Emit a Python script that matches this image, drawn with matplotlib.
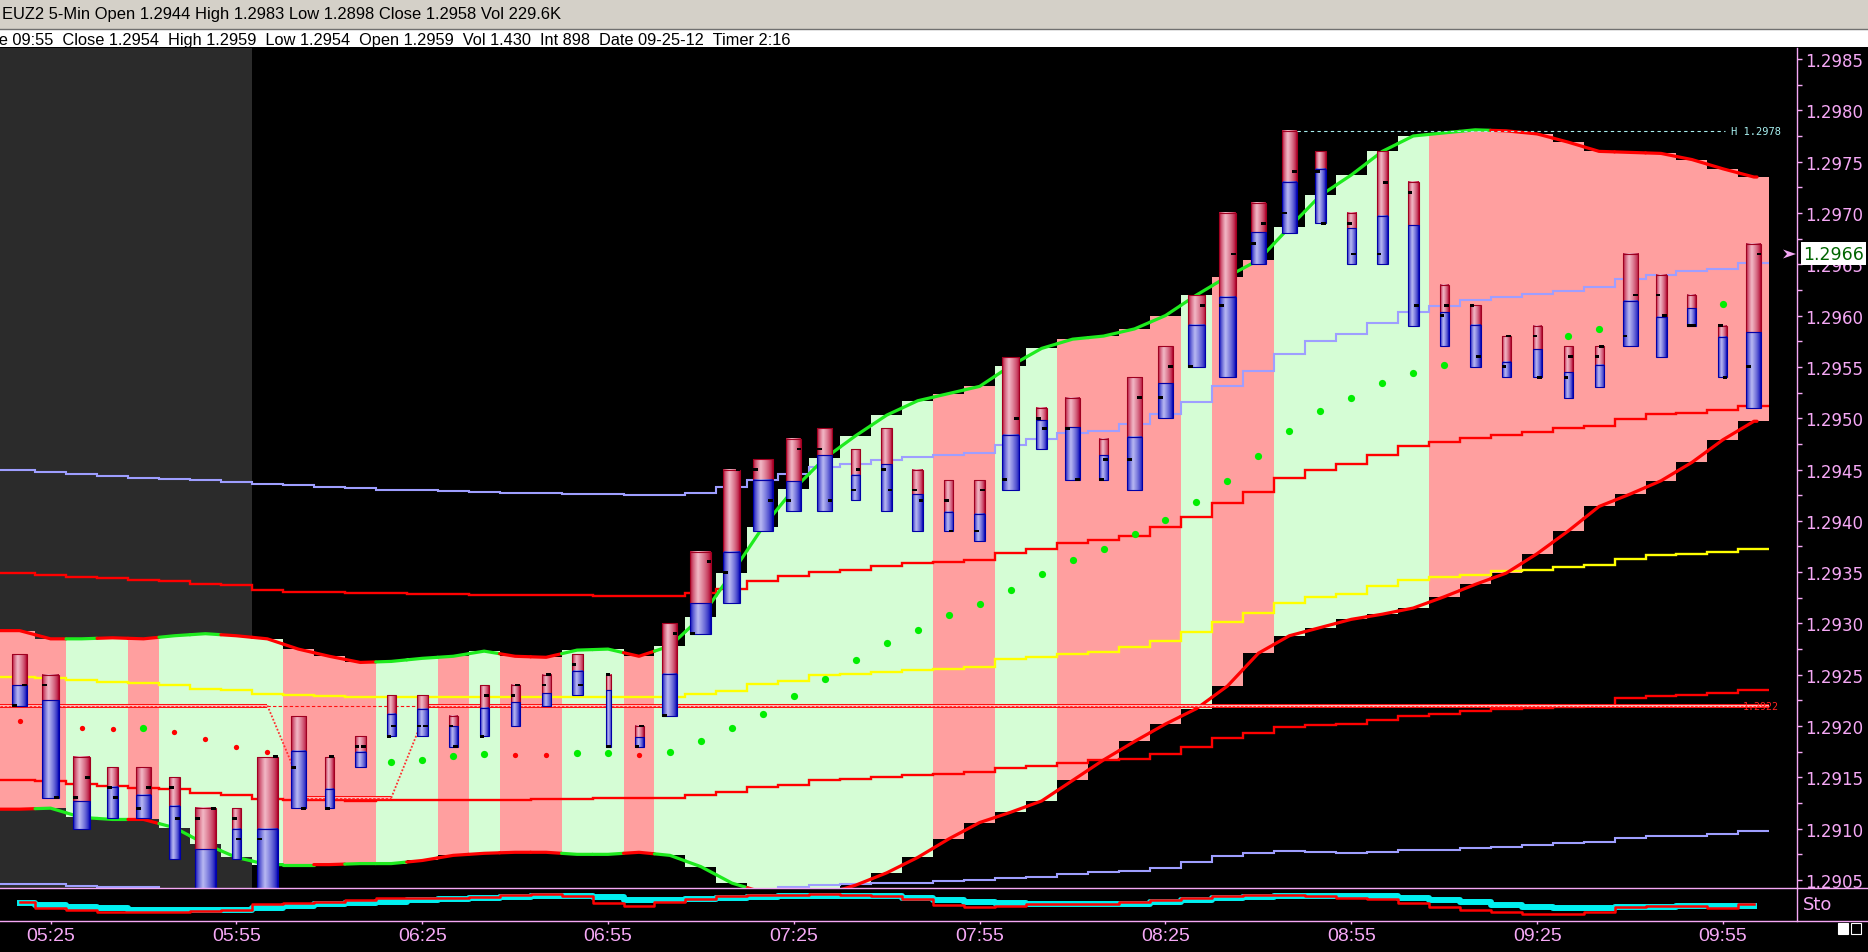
import numpy as np
import matplotlib
matplotlib.use("Agg")
import matplotlib.pyplot as plt
from matplotlib.collections import LineCollection
from matplotlib.colors import to_rgb
from matplotlib.lines import Line2D
from matplotlib.patches import Polygon, Rectangle

W, H, DPI = 1868, 953, 100
BASE = 1.2900  # indicator values below are stored as pips above this

# 5-min bars 05:20 .. 10:00
bar_high = [1.2927, 1.2925, 1.2917, 1.2916, 1.2916, 1.2915, 1.2912, 1.2912, 1.2917, 1.2921,
            1.2917, 1.2919, 1.2923, 1.2923, 1.2921, 1.2924, 1.2924, 1.2925, 1.2927, 1.2925,
            1.2920, 1.2930, 1.2937, 1.2945, 1.2946, 1.2948, 1.2949, 1.2947, 1.2949, 1.2945,
            1.2944, 1.2944, 1.2956, 1.2951, 1.2952, 1.2948, 1.2954, 1.2957, 1.2962, 1.2970,
            1.2971, 1.2978, 1.2976, 1.2970, 1.2976, 1.2973, 1.2963, 1.2961, 1.2958, 1.2959,
            1.2957, 1.2957, 1.2966, 1.2964, 1.2962, 1.2959, 1.2967]
bar_low = [1.2922, 1.2913, 1.2910, 1.2911, 1.2911, 1.2907, 1.2902, 1.2907, 1.2902, 1.2912,
           1.2912, 1.2916, 1.2919, 1.2919, 1.2918, 1.2919, 1.2920, 1.2922, 1.2923, 1.2918,
           1.2918, 1.2921, 1.2929, 1.2932, 1.2939, 1.2941, 1.2941, 1.2942, 1.2941, 1.2939,
           1.2939, 1.2938, 1.2943, 1.2947, 1.2944, 1.2944, 1.2943, 1.2950, 1.2955, 1.2954,
           1.2965, 1.2968, 1.2969, 1.2965, 1.2965, 1.2959, 1.2957, 1.2955, 1.2954, 1.2954,
           1.2952, 1.2953, 1.2957, 1.2956, 1.2959, 1.2954, 1.2951]
bar_open = [1.2922, 1.2924, 1.2913, 1.2914, 1.2912, 1.2914, 1.2911, 1.2911, 1.2909, 1.2916,
            1.2912, 1.2918, 1.2919, 1.2920, 1.2920, 1.2919, 1.2923, 1.2924, 1.2926, 1.2925,
            1.2918, 1.2921, 1.2929, 1.2935, 1.2945, 1.2942, 1.2947, 1.2943, 1.2945, 1.2943,
            1.2942, 1.2939, 1.2944, 1.2950, 1.2949, 1.2944, 1.2946, 1.2952, 1.2955, 1.2961,
            1.2967, 1.2970, 1.2974, 1.2969, 1.2966, 1.2972, 1.2960, 1.2961, 1.2955, 1.2958,
            1.2954, 1.2956, 1.2958, 1.2962, 1.2959, 1.2959, 1.2955]
bar_close = [1.2924, 1.2913, 1.2915, 1.2913, 1.2914, 1.2911, 1.2912, 1.2909, 1.2917, 1.2912,
             1.2917, 1.2918, 1.2920, 1.2920, 1.2918, 1.2923, 1.2924, 1.2925, 1.2924, 1.2918,
             1.2920, 1.2929, 1.2936, 1.2945, 1.2942, 1.2947, 1.2942, 1.2945, 1.2943, 1.2942,
             1.2939, 1.2943, 1.2950, 1.2949, 1.2944, 1.2946, 1.2952, 1.2955, 1.2961, 1.2966,
             1.2969, 1.2974, 1.2969, 1.2966, 1.2973, 1.2961, 1.2961, 1.2956, 1.2958, 1.2954,
             1.2956, 1.2957, 1.2962, 1.2960, 1.2959, 1.2954, 1.2966]
bar_split = [1.29240, 1.29225, 1.29127, 1.29141, 1.29133, 1.29122, 1.29080, 1.29100, 1.29100, 1.29176,
             1.29139, 1.29175, 1.29212, 1.29217, 1.29200, 1.29218, 1.29223, 1.29232, 1.29254, 1.29235,
             1.29189, 1.29251, 1.29320, 1.29370, 1.29440, 1.29439, 1.29464, 1.29445, 1.29455, 1.29426,
             1.29409, 1.29407, 1.29484, 1.29498, 1.29491, 1.29464, 1.29482, 1.29534, 1.29591, 1.29618,
             1.29681, 1.29730, 1.29743, 1.29685, 1.29697, 1.29688, 1.29603, 1.29591, 1.29555, 1.29567,
             1.29545, 1.29552, 1.29614, 1.29599, 1.29607, 1.29579, 1.29584]
bar_width_px = [15, 17, 17, 11, 15, 11, 21, 9, 21, 15, 9, 11, 9, 11, 9, 9, 9, 9, 11, 5,
                9, 15, 21, 17, 20, 15, 15, 9, 11, 11, 9, 11, 17, 11, 15, 9, 15, 15, 17, 17,
                15, 15, 11, 9, 11, 11, 9, 11, 9, 9, 9, 9, 15, 11, 9, 9, 15]

band_upper_pips = [29.3, 28.5, 28.5, 28.6, 28.5, 28.8, 29.0, 28.8, 28.5, 27.5,
                   26.8, 26.2, 26.3, 26.6, 26.8, 27.3, 26.8, 26.7, 27.4, 27.5,
                   26.8, 27.8, 30.6, 34.9, 39.4, 43.1, 46.1, 48.3, 50.3, 51.7,
                   52.4, 53.1, 55.1, 56.8, 57.7, 58.0, 58.7, 60.0, 62.0, 63.8,
                   65.4, 68.6, 71.7, 73.7, 76.0, 77.5, 77.8, 78.1, 78.0, 77.7,
                   76.9, 76.0, 75.9, 75.8, 75.2, 74.3, 73.5]
band_lower_pips = [11.9, 12.0, 11.1, 10.9, 10.9, 10.1, 8.5, 7.2, 6.5, 6.5,
                   6.5, 6.6, 6.6, 6.9, 7.4, 7.6, 7.7, 7.7, 7.5, 7.5,
                   7.7, 7.4, 6.3, 4.7, 3.8, 3.0, 3.6, 4.5, 5.7, 7.2,
                   9.0, 10.6, 11.6, 12.7, 14.7, 16.7, 18.5, 20.2, 21.7, 23.9,
                   27.1, 28.8, 29.6, 30.4, 30.9, 31.5, 32.6, 33.8, 34.9, 36.8,
                   39.0, 41.4, 42.6, 43.9, 45.7, 47.9, 49.7]
band_state = "PPGGPGGGGPPPGGPGPPGGP" + "GGGGGGGGG" + "PP" + "GG" + "PPPP" + "G" + "PP" + "GGGGG" + "PPPPPPPPPPP"
upper_edge_state = "RRGRRGGRRRRRGGGGRRGGR" + "G" * 27 + "R" * 9
lower_edge_state = "RGGGRGGGGGRGGRRRRRGGRGGG" + "R" * 33

lavender_hi_pips = [45.0, 44.8, 44.6, 44.4, 44.2, 44.1, 44.0, 43.8, 43.6, 43.5,
                    43.3, 43.2, 43.0, 43.0, 42.9, 42.8, 42.7, 42.7, 42.6, 42.6,
                    42.5, 42.5, 42.7, 43.3, 44.0, 44.6, 45.2, 45.5, 45.9, 46.2,
                    46.4, 46.6, 47.4, 48.0, 48.6, 48.8, 49.4, 50.4, 51.6, 53.1,
                    54.6, 56.3, 57.5, 58.2, 59.3, 60.3, 60.9, 61.5, 61.8, 62.1,
                    62.4, 62.8, 63.6, 64.0, 64.3, 64.5, 65.1]
lavender_lo_pips = [4.6, 4.6, 4.4, 4.3, 4.3, 3.9, 3.9, 3.9, 3.9, 3.9,
                    3.9, 3.9, 3.9, 3.9, 3.9, 3.9, 3.9, 3.9, 3.9, 3.9,
                    3.9, 3.9, 3.9, 3.9, 3.9, 4.3, 4.5, 4.6, 4.7, 4.7,
                    4.9, 5.0, 5.2, 5.3, 5.6, 5.8, 5.9, 6.2, 6.8, 7.3,
                    7.6, 7.8, 7.7, 7.6, 7.7, 7.9, 7.9, 8.1, 8.2, 8.4,
                    8.6, 8.7, 9.1, 9.3, 9.3, 9.5, 9.8]
red_hi_pips = [34.9, 34.7, 34.5, 34.4, 34.2, 34.1, 33.8, 33.7, 33.3, 33.1,
               33.1, 33.0, 33.0, 32.9, 32.9, 32.8, 32.8, 32.8, 32.8, 32.7,
               32.7, 32.7, 33.0, 33.4, 34.1, 34.6, 35.0, 35.2, 35.6, 35.9,
               36.0, 36.2, 36.9, 37.3, 37.8, 38.1, 38.5, 39.4, 40.4, 41.7,
               42.8, 44.2, 45.0, 45.5, 46.4, 47.3, 47.7, 48.1, 48.4, 48.7,
               49.0, 49.2, 49.9, 50.4, 50.5, 50.8, 51.2]
yellow_pips = [24.8, 24.7, 24.5, 24.3, 24.2, 24.0, 23.6, 23.5, 23.1, 23.0,
               22.9, 22.8, 22.8, 22.8, 22.8, 22.8, 22.8, 22.8, 22.8, 22.8,
               22.8, 22.8, 23.1, 23.4, 24.1, 24.4, 25.0, 25.1, 25.3, 25.5,
               25.6, 25.8, 26.5, 26.7, 27.0, 27.2, 27.7, 28.3, 29.2, 30.1,
               31.0, 32.0, 32.6, 32.9, 33.6, 34.2, 34.5, 34.7, 35.1, 35.2,
               35.5, 35.7, 36.3, 36.7, 36.8, 37.0, 37.3]
red_lo_pips = [14.7, 14.6, 14.4, 14.2, 14.0, 13.9, 13.5, 13.3, 12.9, 12.8,
               12.8, 12.7, 12.8, 12.8, 12.8, 12.8, 12.8, 12.9, 12.9, 13.0,
               13.0, 13.0, 13.3, 13.6, 14.1, 14.3, 14.7, 14.8, 15.0, 15.2,
               15.3, 15.5, 15.9, 16.1, 16.4, 16.7, 16.8, 17.3, 18.0, 18.8,
               19.3, 19.9, 20.1, 20.2, 20.6, 21.0, 21.2, 21.5, 21.7, 21.8,
               21.9, 22.0, 22.7, 22.9, 23.0, 23.2, 23.5]

dot_bar = [0, 2, 3, 4, 5, 6, 7, 8, 12, 13, 14, 15, 16, 17, 18, 19, 20,
           21, 22, 23, 24, 25, 26, 27, 28, 29, 30, 31, 32, 33, 34, 35, 36, 37, 38, 39,
           40, 41, 42, 43, 44, 45, 46, 50, 51, 55]
dot_pips = [20.5, 19.8, 19.7, 19.8, 19.4, 18.7, 18.0, 17.5,
            16.5, 16.7, 17.1, 17.3, 17.2, 17.2, 17.4, 17.4, 17.2,
            17.5, 18.5, 19.8, 21.2, 22.9, 24.6, 26.4, 28.1, 29.4, 30.8, 31.9, 33.3,
            34.8, 36.2, 37.3, 38.7, 40.1, 41.8, 43.9, 46.3, 48.8, 50.7, 52.0, 53.4,
            54.4, 55.2, 58.0, 58.7, 61.1]
dot_kind = "rrrgrrrrggggrrggr" + "g" * 29

sto_k = [56.7, 38.4, 34.3, 28.3, 28.3, 28.3, 30.3, 33.3, 50.5, 53.5,
         58.6, 64.6, 68.7, 69.7, 70.7, 73.7, 78.8, 81.8, 76.7, 54.5,
         44.5, 56.7, 66.7, 76.7, 79.7, 79.7, 80.8, 78.8, 74.7, 66.7,
         48.5, 42.4, 46.5, 50.5, 51.5, 52.5, 56.7, 64.6, 69.7, 76.7,
         78.8, 79.7, 74.7, 68.7, 66.7, 54.5, 41.4, 33.3, 26.3, 20.2,
         20.2, 28.3, 41.4, 46.5, 44.5, 38.4, 52.5]
sto_d = [54.5, 48.5, 42.4, 38.4, 34.3, 33.3, 32.3, 34.3, 40.4, 46.5,
         51.5, 54.5, 58.6, 62.6, 66.7, 69.7, 72.7, 75.8, 76.7, 71.7,
         64.6, 62.6, 66.7, 70.7, 73.7, 74.7, 75.8, 76.7, 74.7, 68.7,
         62.6, 56.7, 53.5, 51.5, 50.5, 50.5, 52.5, 56.7, 62.6, 68.7,
         72.7, 75.8, 76.7, 76.7, 74.7, 68.7, 62.6, 56.7, 48.5, 43.4,
         38.4, 39.4, 41.4, 43.4, 44.5, 44.5, 44.5]

time_ticks = [1, 7, 13, 19, 25, 31, 37, 43, 49, 55]
time_labels = ["05:25", "05:55", "06:25", "06:55", "07:25", "07:55", "08:25", "08:55", "09:25", "09:55"]

level_price = 1.2922
drag_price = 1.2913
session_end = 7.5
high_mark = 1.2978
last_price = 1.2966

PINK = "#F5A8F5"
BAR_PX = 30.97
X_LEFT = -19.6 / BAR_PX
X_RIGHT = (1797 - 19.6) / BAR_PX
Y_TOP = 1.2985 + 11 / 102600
Y_BOT = 1.2905 - 8 / 102600

n = len(bar_high)
xs = np.arange(n)
to_price = lambda p: BASE + np.asarray(p) / 10000.0

plt.rcParams["font.family"] = ["DejaVu Sans"]
fig = plt.figure(figsize=(W / DPI, H / DPI), dpi=DPI, facecolor="black")


def fy(py):
    return 1 - py / H


ax = fig.add_axes([0, fy(889), 1797 / W, 840 / H], facecolor="black")
sto = fig.add_axes([0, fy(922), 1797 / W, 33 / H], facecolor="black")
hdr1 = fig.add_axes([0, fy(30), 1, 30 / H], facecolor="#D4D0C8")
hdr2 = fig.add_axes([0, fy(48), 1, 18 / H], facecolor="white")
for a in (hdr1, hdr2):
    a.set_xticks([])
    a.set_yticks([])
    for s in a.spines.values():
        s.set_visible(False)

fig.text(2 / W, fy(15), "EUZ2 5-Min Open 1.2944 High 1.2983 Low 1.2898 Close 1.2958 Vol 229.6K",
         family="Liberation Sans", fontsize=11.9, color="black", va="center", ha="left")
fig.text(791 / W, fy(40), "Time 09:55  Close 1.2954  High 1.2959  Low 1.2954  Open 1.2959  Vol 1.430  "
         "Int 898  Date 09-25-12  Timer 2:16",
         family="Liberation Sans", fontsize=11.8, color="black", va="center", ha="right")
fig.add_artist(Line2D([0, 1], [fy(30), fy(30)], transform=fig.transFigure, color="#707070", lw=1))

# session shading and band columns
ax.axvspan(X_LEFT, session_end, color="#2B2B2B", lw=0, zorder=0)
lefts = np.r_[X_LEFT, xs[1:] - 0.5]
widths = np.r_[0.5 - X_LEFT, np.ones(n - 1)]
up = to_price(band_upper_pips)
lo = to_price(band_lower_pips)
ax.bar(lefts, up - lo, bottom=lo, width=widths, align="edge",
       color=["#FF9F9F" if c == "P" else "#D5FDD5" for c in band_state],
       linewidth=0, antialiased=False, zorder=1)

edges = np.r_[X_LEFT, xs + 0.5]
ax.stairs(to_price(lavender_hi_pips), edges, baseline=None, color="#9E9EFF", lw=1.5, zorder=2)
ax.stairs(to_price(lavender_lo_pips), edges, baseline=None, color="#9E9EFF", lw=1.5, zorder=2)
ax.stairs(to_price(red_hi_pips), edges, baseline=None, color="#FF0000", lw=1.7, zorder=2)
ax.stairs(to_price(red_lo_pips), edges, baseline=None, color="#FF0000", lw=1.7, zorder=2)
ax.stairs(to_price(yellow_pips), edges, baseline=None, color="#FFFF00", lw=1.7, zorder=2)


def edge_line(vals, states):
    segs, cols = [], []
    for i in range(n):
        left = (X_LEFT, vals[0]) if i == 0 else (i - 0.5, (vals[i - 1] + vals[i]) / 2)
        right = (i + 0.1, vals[i]) if i == n - 1 else (i + 0.5, (vals[i] + vals[i + 1]) / 2)
        segs.append([left, (i, vals[i]), right])
        cols.append("#1EEB1E" if states[i] == "G" else "#FF0000")
    ax.add_collection(LineCollection(segs, colors=cols, linewidths=2.3, capstyle="round",
                                     joinstyle="round", zorder=3))


edge_line(up, upper_edge_state)
edge_line(lo, lower_edge_state)

dp = to_price(dot_pips)
for kind, col, ms in (("g", "#00EE00", 5.2), ("r", "#FF0000", 3.8)):
    idx = [k for k, c in enumerate(dot_kind) if c == kind]
    ax.plot(np.array(dot_bar)[idx], dp[idx], "o", color=col, ms=ms, mew=0, zorder=3)


# dragged order level
def level(x0, x1, y):
    ax.plot([x0, x1], [y, y], color="#FF1010", lw=2.9, solid_capstyle="butt", zorder=4)
    ax.plot([x0, x1], [y, y], color="#FFC4C4", lw=1.3, solid_capstyle="butt", zorder=4)
    ax.plot([x0, x1], [y, y], color="#FF2020", lw=0.6, dashes=(3, 2), zorder=4)


level(X_LEFT, 8.0, level_price)
level(9.25, 12.0, drag_price)
level(13.2, 56.5, level_price)
ax.plot([8.0, 13.2], [level_price] * 2, color="#FF1010", lw=0.8, dashes=(3, 2), zorder=4)
ax.plot([8.0, 9.25], [level_price, drag_price], color="#FF3030", lw=1.3, ls=(0, (1, 1)), zorder=4)
ax.plot([12.0, 13.2], [drag_price, level_price], color="#FF3030", lw=1.3, ls=(0, (1, 1)), zorder=4)
ax.text(55.65, level_price, "1.2922", family="DejaVu Sans Mono", fontsize=7.2, color="#FF2020",
        va="center", ha="left", zorder=8)


# bars with cylinder shading
def shade(dark, light, m=32):
    t = np.linspace(0, 1, m)
    w = np.interp(t, [0, 0.38, 1], [0, 1, 0]) ** 0.7
    d, l = np.array(to_rgb(dark)), np.array(to_rgb(light))
    return (d[None, :] * (1 - w[:, None]) + l[None, :] * w[:, None])[None, :, :]


red_img = shade("#B0002A", "#F2B8C6")
blue_img = shade("#0000B4", "#B8B8F2")
mark_w = 4.7 / BAR_PX
mark_h = 2.8 / 102600
for i in range(n):
    hw = bar_width_px[i] / 2 / BAR_PX
    x0, x1 = i - hw, i + hw
    ax.imshow(red_img, extent=(x0, x1, bar_split[i], bar_high[i]), aspect="auto",
              interpolation="bilinear", zorder=5)
    ax.imshow(blue_img, extent=(x0, x1, bar_low[i], bar_split[i]), aspect="auto",
              interpolation="bilinear", zorder=5)
    ax.add_patch(Rectangle((x0, bar_split[i]), x1 - x0, bar_high[i] - bar_split[i], fill=False,
                           edgecolor="#A00020", lw=0.8, zorder=5.1))
    ax.add_patch(Rectangle((x0, bar_low[i]), x1 - x0, bar_split[i] - bar_low[i], fill=False,
                           edgecolor="#0000A8", lw=0.8, zorder=5.1))
    ax.add_patch(Rectangle((x0, bar_open[i] - mark_h / 2), mark_w, mark_h, color="black", lw=0, zorder=6))
    ax.add_patch(Rectangle((x1 - mark_w, bar_close[i] - mark_h / 2), mark_w, mark_h, color="black",
                           lw=0, zorder=6))

# session high marker
hi_bar = int(np.argmax(bar_high))
ax.plot([hi_bar + bar_width_px[hi_bar] / 2 / BAR_PX, 55.07], [high_mark] * 2, color="#A8F0F0",
        lw=0.8, dashes=(3, 3), zorder=7)
ax.text(55.27, high_mark, "H 1.2978", family="DejaVu Sans Mono", fontsize=7.5, color="#A8F0F0",
        va="center", ha="left", zorder=8)

ax.set_xlim(X_LEFT, X_RIGHT)
ax.set_ylim(Y_BOT, Y_TOP)
ax.set_xticks([])
ax.yaxis.tick_right()
major = np.round(np.arange(1.2905, 1.29851, 0.0005), 4)
ax.set_yticks(major, labels=[f"{v:.4f}" for v in major])
ax.set_yticks(np.round(np.arange(1.29075, 1.2985, 0.0005), 5), minor=True)
ax.tick_params(axis="y", which="both", direction="out", length=3.6, width=1, colors=PINK,
               labelsize=12, pad=2.4)
for name, s in ax.spines.items():
    s.set_visible(name == "right")
ax.spines["right"].set_color(PINK)
ax.spines["right"].set_linewidth(1)

# stochastic panel
sto.step(xs, sto_d, where="mid", color="#00F0F0", lw=4.3, zorder=2)
sto.step(xs, sto_k, where="mid", color="#FF0000", lw=1.8, zorder=3)
sto.set_xlim(X_LEFT, X_RIGHT)
sto.set_ylim(0, 100)
sto.set_yticks([])
sto.set_xticks(time_ticks, labels=time_labels, family="Liberation Sans", fontsize=14, color=PINK)
sto.tick_params(axis="x", direction="out", length=2.5, width=1, colors=PINK, pad=1.5)
for name, s in sto.spines.items():
    s.set_visible(name == "right")
sto.spines["right"].set_color(PINK)
sto.spines["right"].set_linewidth(1)
fig.text(1803 / W, fy(905), "Sto", color=PINK, fontsize=13, va="center", ha="left")

for py in (889, 922):
    fig.add_artist(Line2D([0, 1], [fy(py), fy(py)], transform=fig.transFigure, color=PINK, lw=1))

# last price tag
fig.text(1803 / W, fy(254.9), "1.2966", color="#006400", fontsize=12.5, va="center", ha="left",
         bbox=dict(facecolor="white", edgecolor="none", pad=1.8), zorder=10)
arrow = [(1783, 250.5), (1796, 255), (1783, 259.5), (1787, 255)]
fig.add_artist(Polygon([(x / W, fy(y)) for x, y in arrow], closed=True, transform=fig.transFigure,
                       color=PINK, lw=0))

fig.add_artist(Rectangle((1838 / W, fy(935)), 10 / W, 11 / H, transform=fig.transFigure,
                         facecolor="white", edgecolor="white", lw=0.8))
fig.add_artist(Rectangle((1851 / W, fy(935)), 10 / W, 11 / H, transform=fig.transFigure,
                         facecolor="none", edgecolor="white", lw=0.8))

fig.savefig("out.png", dpi=DPI, facecolor="black")
